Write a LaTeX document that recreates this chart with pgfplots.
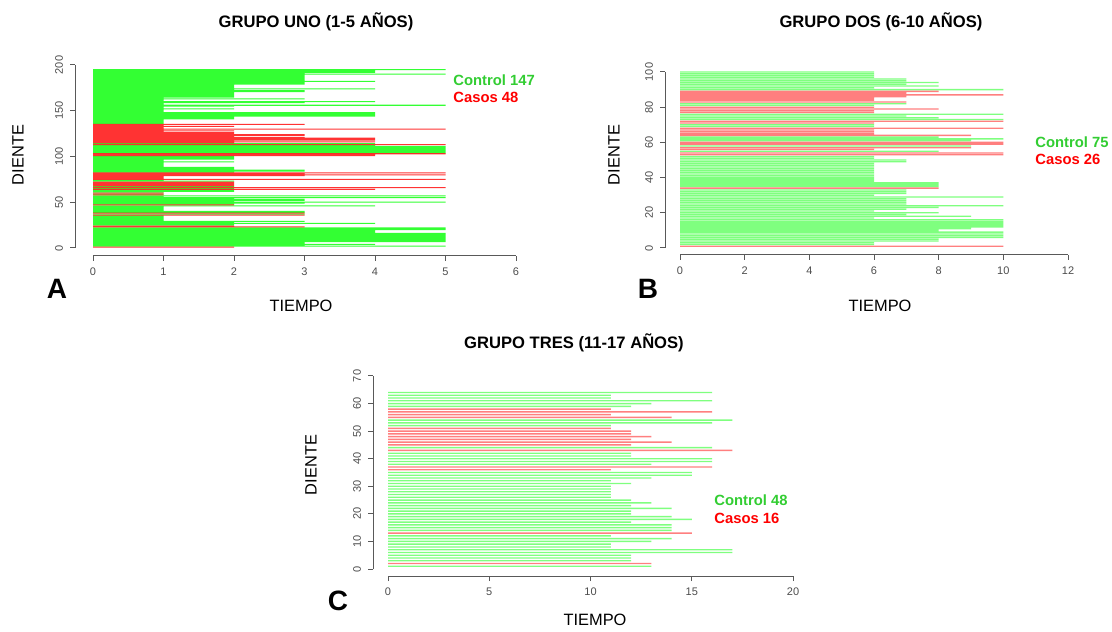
\documentclass[border=0pt]{standalone}
\usepackage{pgfplots}
\pgfplotsset{compat=1.18}
\usepackage{pgfplotstable}
\usepackage{fontspec}
\setmainfont{Liberation Sans}

\definecolor{gA}{RGB}{0,255,0}
\definecolor{rA}{RGB}{255,0,0}
\definecolor{legG}{RGB}{50,205,50}
\definecolor{legR}{RGB}{255,0,0}

% panel A: tooth, time (green = control, red = cases)
\pgfplotstableread{
y t
195 5
194 4
193 4
192 4
191 3
190 5
189 3
188 3
187 3
186 3
185 3
184 3
183 3
182 4
181 3
180 3
179 3
178 2
177 2
176 2
175 2
174 4
173 2
172 3
171 3
170 2
169 2
168 2
167 2
166 2
165 2
164 1
163 3
162 1
161 1
160 4
159 3
158 1
157 1
156 5
155 2
154 1
153 1
152 2
151 1
150 1
149 1
148 4
147 4
146 4
145 4
144 4
143 2
142 2
141 2
140 1
139 1
138 1
137 1
136 1
114 4
112 4
111 5
110 5
109 5
108 5
107 5
106 5
105 5
104 5
100 2
99 2
98 2
97 2
96 1
95 1
94 2
93 1
92 1
91 1
90 1
89 1
88 2
87 2
86 2
85 3
84 3
83 2
74 1
73 2
67 2
65 2
63 2
62 2
61 1
59 1
57 5
56 1
55 5
54 2
53 3
52 3
51 2
50 5
49 3
48 2
46 4
45 1
44 1
43 1
42 1
41 1
40 3
39 3
37 3
35 1
34 1
33 1
32 1
31 1
30 1
29 3
28 2
27 4
26 2
25 2
22 5
21 5
20 5
19 4
18 4
17 4
16 5
15 5
14 5
13 5
12 5
11 5
10 5
9 5
8 5
7 5
6 3
5 3
4 4
3 3
2 5
}\Agreen
\pgfplotstableread{
y t
135 3
134 1
133 2
132 1
131 1
130 5
129 1
128 2
127 1
126 2
125 2
124 3
123 3
122 2
121 3
120 4
119 4
118 4
117 2
116 4
115 2
113 5
103 5
102 4
101 4
82 5
81 3
80 5
79 3
78 1
77 1
76 1
75 5
72 2
71 2
70 2
69 2
68 2
66 5
64 4
60 1
58 1
47 2
38 3
36 3
24 2
23 3
1 2
}\Ared

% panel B
\pgfplotstableread{
y t
101 6
100 6
99 6
98 6
97 6
96 7
95 7
94 8
93 7
92 8
91 6
90 10
82 7
81 6
76 10
75 7
74 8
73 10
70 6
69 6
63 8
62 10
61 9
58 9
55 8
52 6
51 6
50 7
49 7
48 6
47 6
46 6
45 6
44 6
43 6
42 6
41 6
40 6
39 6
38 6
37 8
36 8
35 8
33 7
32 7
31 7
30 6
29 10
28 7
27 7
26 7
25 7
24 10
23 8
22 7
21 6
20 8
19 7
18 9
17 6
16 10
15 10
14 10
13 10
12 10
11 9
10 8
9 10
8 10
7 10
6 10
5 8
4 8
3 6
2 6
}\Bgreen
\pgfplotstableread{
y t
89 8
88 7
87 10
86 7
85 6
84 6
83 7
80 6
79 8
78 6
77 6
72 10
71 6
68 10
67 6
66 6
65 6
64 9
60 10
59 10
57 9
56 6
54 10
53 10
34 8
1 10
}\Bred

% panel C
\pgfplotstableread{
y t
64 16
63 11
62 11
61 16
60 13
59 12
54 17
53 16
52 11
44 16
42 12
41 12
40 16
39 16
38 13
35 15
34 15
33 13
32 11
31 12
30 11
29 11
28 11
27 11
26 11
25 12
24 13
23 12
22 14
21 12
20 12
19 14
18 15
17 12
16 14
15 14
14 14
12 11
11 14
10 13
9 11
8 11
7 17
6 17
5 12
4 12
3 12
1 13
}\Cgreen
\pgfplotstableread{
y t
58 11
57 16
56 11
55 14
51 11
50 12
49 12
48 13
47 12
46 14
45 12
43 17
37 16
36 11
13 15
2 13
}\Cred

\pgfplotsset{
  rbase/.style={
    scale only axis,
    anchor=south west,
    enlargelimits=false,
    axis x line=bottom,
    axis y line=left,
    axis line style={-, black!65, line width=0.5pt},
    tick align=outside,
    major tick length=2.5pt,
    tick style={black!65, line width=0.5pt},
    ticklabel style={font=\fontsize{5.5}{6}\selectfont, text=black!70},
    yticklabel style={rotate=90, anchor=south},
    /pgf/number format/assume math mode=true,
  },
  % one thin bar per tooth
  tooth/.style 2 args={xbar, bar shift=0pt, draw=none, fill=#1, fill opacity=#2},
}

\begin{document}
\begin{tikzpicture}
\useasboundingbox (0,0) rectangle (556pt,315.5pt);

\begin{axis}[rbase, at={(46.5pt,191.5pt)}, width=211.5pt, height=91.5pt,
  xmin=0, xmax=6, ymin=0, ymax=200,
  xtick={0,1,...,6}, ytick={0,50,...,200},
  axis x line shift=4pt, axis y line shift=9pt]
  \addplot[tooth={gA}{0.8}, bar width=1.1] table[x=t, y=y] {\Agreen};
  \addplot[tooth={rA}{0.8}, bar width=1.1] table[x=t, y=y] {\Ared};
\end{axis}

\begin{axis}[rbase, at={(340pt,191.5pt)}, width=194pt, height=88pt,
  xmin=0, xmax=12, ymin=0, ymax=100,
  xtick={0,2,...,12}, ytick={0,20,...,100},
  axis x line shift=3.5pt, axis y line shift=7.5pt]
  \addplot[tooth={gA}{0.5}, bar width=0.75] table[x=t, y=y] {\Bgreen};
  \addplot[tooth={rA}{0.5}, bar width=0.75] table[x=t, y=y] {\Bred};
\end{axis}

\begin{axis}[rbase, at={(194pt,31pt)}, width=202.5pt, height=96.5pt,
  xmin=0, xmax=20, ymin=0, ymax=70,
  xtick={0,5,...,20}, ytick={0,10,...,70},
  axis x line shift=3.5pt, axis y line shift=7.5pt]
  \addplot[tooth={gA}{0.5}, bar width=0.5] table[x=t, y=y] {\Cgreen};
  \addplot[tooth={rA}{0.5}, bar width=0.5] table[x=t, y=y] {\Cred};
\end{axis}

% titles, labels, legends
\begin{scope}[font=\fontsize{8.3}{10}\selectfont\bfseries]
  \node at (158pt,304.5pt) {GRUPO UNO (1-5 AÑOS)};
  \node at (440.5pt,304.5pt) {GRUPO DOS (6-10 AÑOS)};
  \node at (287pt,144pt) {GRUPO TRES (11-17 AÑOS)};
\end{scope}
\begin{scope}[font=\fontsize{8.2}{10}\selectfont]
  \node at (150.5pt,162.5pt) {TIEMPO};
  \node at (440pt,162.5pt) {TIEMPO};
  \node at (297.5pt,5.5pt) {TIEMPO};
  \node[rotate=90] at (9pt,238pt) {DIENTE};
  \node[rotate=90] at (307pt,238pt) {DIENTE};
  \node[rotate=90] at (155.5pt,83pt) {DIENTE};
\end{scope}
\begin{scope}[font=\fontsize{7.4}{9}\selectfont\bfseries, inner sep=0pt]
  \node[anchor=west, text=legG] at (226.5pt,275.5pt) {Control 147};
  \node[anchor=west, text=legR] at (226.5pt,267pt) {Casos 48};
  \node[anchor=west, text=legG] at (517.5pt,244.5pt) {Control 75};
  \node[anchor=west, text=legR] at (517.5pt,236pt) {Casos 26};
  \node[anchor=west, text=legG] at (357pt,65.5pt) {Control 48};
  \node[anchor=west, text=legR] at (357pt,56.5pt) {Casos 16};
\end{scope}
\begin{scope}[font=\fontsize{14}{16}\selectfont\bfseries]
  \node at (28.5pt,171pt) {A};
  \node at (324pt,171pt) {B};
  \node at (169pt,15pt) {C};
\end{scope}
\end{tikzpicture}
\end{document}
